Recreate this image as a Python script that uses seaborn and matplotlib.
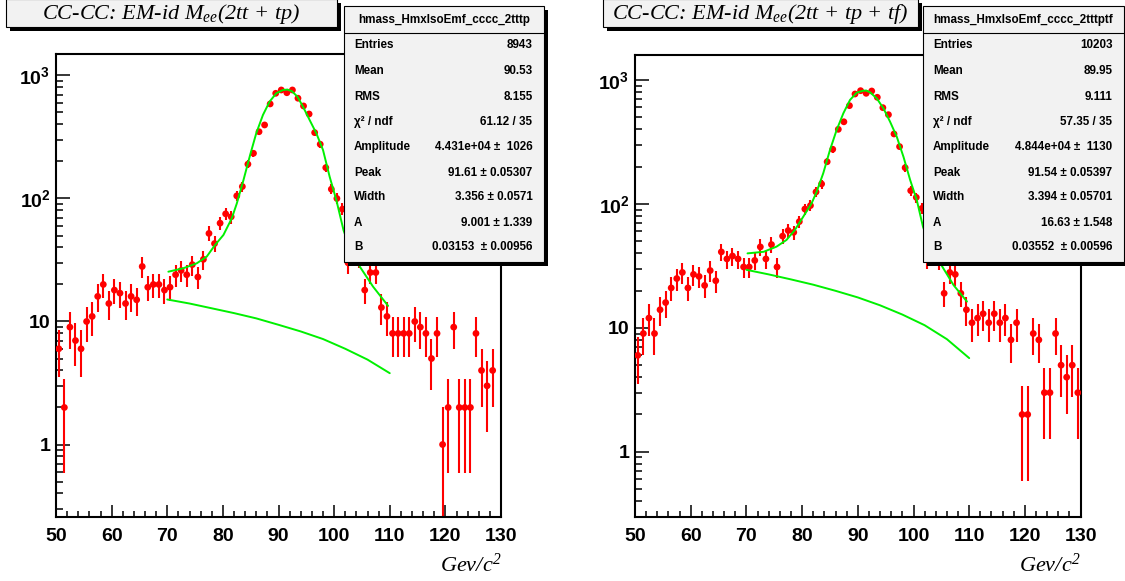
import numpy as np
import pandas as pd
import matplotlib
matplotlib.use("Agg")
import matplotlib.pyplot as plt
import seaborn as sns
from matplotlib.patches import Rectangle
from matplotlib.lines import Line2D
from matplotlib.ticker import FixedLocator, FixedFormatter, MultipleLocator, LogLocator, NullFormatter

# ---------------- data ----------------
bin_centers = np.arange(50.5, 130.0, 1.0)

counts_left = [6, 2, 9, 7, 6, 10, 11, 16, 20, 14,
               18, 17, 14, 16, 15, 28, 19, 20, 20, 18,
               19, 24, 26, 24, 29, 23, 32, 52, 43, 63,
               75, 71, 105, 125, 190, 233, 349, 396, 587, 716,
               762, 724, 762, 653, 565, 486, 343, 276, 178, 119,
               100, 82, 30, 45, 33, 18, 25, 25, 13, 11,
               8, 8, 8, 8, 10, 9, 8, 5, 8, 1,
               2, 9, 2, 2, 2, 8, 4, 3, 4, 0]

counts_right = [6, 9, 12, 9, 14, 16, 21, 25, 28, 21,
                27, 26, 22, 29, 24, 41, 36, 38, 36, 31,
                31, 35, 45, 36, 47, 31, 55, 61, 59, 72,
                91, 97, 125, 145, 219, 276, 400, 460, 621, 771,
                820, 781, 815, 725, 598, 525, 367, 290, 196, 128,
                113, 92, 36, 45, 35, 19, 28, 27, 19, 14,
                11, 12, 13, 11, 13, 11, 12, 8, 11, 2,
                2, 9, 8, 3, 3, 9, 5, 4, 5, 3]

# fitted curves
fit_x_left = [70.2, 72.9, 75.3, 77.1, 78.6, 80.1, 81.6, 82.5, 83.7, 84.9, 86.0, 87.2, 88.4,
              89.6, 90.8, 91.6, 92.4, 93.4, 94.4, 95.6, 96.8, 98.0, 99.2, 100.4, 101.7,
              103.0, 104.6, 107.0, 109.7]
fit_y_left = [25.4, 27.1, 29.7, 33.7, 41.9, 50.5, 69, 91, 141, 226, 339, 477, 613,
              716, 762, 768, 745, 673, 558, 434, 339, 248, 150, 97, 55,
              38, 28, 19.2, 13.4]
bg_x_left = [70, 74, 78, 82, 86, 90, 94, 98, 102, 106, 110]
bg_y_left = [15.1, 14.0, 12.8, 11.7, 10.6, 9.4, 8.3, 7.2, 6.0, 4.9, 3.8]

fit_x_right = [70.2, 73.1, 75.4, 77.2, 78.7, 80.2, 81.7, 82.6, 83.8, 85.0, 86.2, 87.4, 88.6,
               89.8, 91.0, 91.5, 92.2, 93.4, 94.6, 95.8, 97.0, 98.2, 99.4, 100.6, 101.7,
               103.0, 104.8, 107.2, 109.6]
fit_y_right = [39.9, 41.1, 45.2, 51.2, 61.6, 78.8, 101, 125, 177, 272, 395, 538, 690,
               790, 820, 822, 796, 711, 591, 460, 348, 240, 156, 107, 65.5,
               45, 33.2, 22.1, 16.3]
bg_x_right = [70, 74, 78, 82, 86, 90, 94, 98, 102, 106, 110]
bg_y_right = [29.4, 27.0, 24.6, 22.3, 19.9, 17.6, 15.2, 12.8, 10.5, 8.1, 5.7]

stat_labels = ["Entries", "Mean", "RMS", "\u03c7\u00b2 / ndf", "Amplitude", "Peak", "Width", "A", "B"]
stat_values_left = ["8943", "90.53", "8.155", "61.12 / 35", "4.431e+04 \u00b1  1026",
                    "91.61 \u00b1 0.05307", "3.356 \u00b1 0.0571", "9.001 \u00b1 1.339",
                    "0.03153  \u00b1 0.00956"]
stat_values_right = ["10203", "89.95", "9.111", "57.35 / 35", "4.844e+04 \u00b1  1130",
                     "91.54 \u00b1 0.05397", "3.394 \u00b1 0.05701", "16.63 \u00b1 1.548",
                     "0.03552  \u00b1 0.00596"]
hist_name_left = "hmass_HmxIsoEmf_cccc_2tttp"
hist_name_right = "hmass_HmxIsoEmf_cccc_2tttptf"
title_left = "CC-CC: EM-id $M_{ee}$(2tt + tp)"
title_right = "CC-CC: EM-id $M_{ee}$(2tt + tp + tf)"
x_ticks = [50, 60, 70, 80, 90, 100, 110, 120, 130]
y_ticks = [1, 10, 100, 1000]
y_tick_labels = ["1", "10", r"$\mathdefault{10^{2}}$", r"$\mathdefault{10^{3}}$"]

# ---------------- style ----------------
sns.set_theme(style="ticks")
plt.rcParams['font.family'] = ['Liberation Sans', 'DejaVu Sans']
plt.rcParams['font.weight'] = 'bold'
plt.rcParams['mathtext.fontset'] = 'custom'
plt.rcParams['mathtext.it'] = 'Liberation Serif:style=italic:weight=normal'
plt.rcParams['mathtext.rm'] = 'Liberation Serif:weight=normal'
plt.rcParams['mathtext.bf'] = 'Liberation Serif:weight=bold'

W, H = 1125, 581
fig = plt.figure(figsize=(W / 100, H / 100), dpi=100)
fig.patch.set_facecolor('white')

GREEN = '#00f000'
RED = '#ff0000'


def fx(px):
    return px / W


def fy(py):
    return 1 - py / H


def draw_box(x0, y0, x1, y1, shadow=4, fc='#f2f2f2', z=10):
    fig.add_artist(Rectangle((fx(x0 + shadow), fy(y1 + shadow)), fx(x1) - fx(x0), fy(y0) - fy(y1),
                             transform=fig.transFigure, facecolor='black', edgecolor='none', zorder=z))
    fig.add_artist(Rectangle((fx(x0), fy(y1)), fx(x1) - fx(x0), fy(y0) - fy(y1),
                             transform=fig.transFigure, facecolor=fc, edgecolor='black', lw=0.8,
                             zorder=z + 1))


panels = [
    dict(frame=(56, 54.3, 501, 517.3), counts=counts_left, ylim=(0.256, 1486),
         fit=(fit_x_left, fit_y_left), bg=(bg_x_left, bg_y_left),
         title=title_left, tbox=(6, -1, 337, 27),
         sbox=(344, 6, 544, 262), name=hist_name_left, values=stat_values_left),
    dict(frame=(635, 54.7, 1080.6, 517.3), counts=counts_right, ylim=(0.296, 1600),
         fit=(fit_x_right, fit_y_right), bg=(bg_x_right, bg_y_right),
         title=title_right, tbox=(603, -1, 918, 27),
         sbox=(923, 6, 1124, 262), name=hist_name_right, values=stat_values_right),
]

row_y = [44.5, 71, 96.5, 121.7, 147, 172.5, 197.5, 222.5, 247.5]

for p in panels:
    l, t, r, b = p['frame']
    ax = fig.add_axes([fx(l), fy(b), fx(r) - fx(l), fy(t) - fy(b)])
    ax.set_facecolor('white')
    ax.set_yscale('log')

    df = pd.DataFrame({'x': bin_centers, 'n': p['counts']})
    nz = df[df['n'] > 0].copy()
    n = nz['n'].to_numpy(dtype=float)
    err = np.sqrt(n)
    lo = np.clip(n - err, 1e-3, None)
    hi = n + err
    ax.vlines(nz['x'], lo, hi, color=RED, lw=1.5, zorder=2)
    sns.scatterplot(data=nz, x='x', y='n', ax=ax, color=RED, s=24,
                    edgecolor='none', linewidth=0, zorder=3, legend=False)

    sns.lineplot(x=p['bg'][0], y=p['bg'][1], ax=ax, color=GREEN, lw=1.4,
                 estimator=None, sort=False, zorder=4)
    sns.lineplot(x=p['fit'][0], y=p['fit'][1], ax=ax, color=GREEN, lw=1.4,
                 estimator=None, sort=False, zorder=4)

    ax.set_xlim(50, 130)
    ax.set_ylim(*p['ylim'])
    ax.set_xlabel('')
    ax.set_ylabel('')

    ax.xaxis.set_major_locator(FixedLocator(x_ticks))
    ax.xaxis.set_minor_locator(MultipleLocator(2))
    ax.yaxis.set_major_locator(FixedLocator(y_ticks))
    ax.yaxis.set_major_formatter(FixedFormatter(y_tick_labels))
    ax.yaxis.set_minor_locator(LogLocator(base=10, subs=(2, 3, 4, 5, 6, 7, 8, 9)))
    ax.yaxis.set_minor_formatter(NullFormatter())

    ax.tick_params(axis='x', which='both', direction='in', bottom=True, top=False,
                   labelsize=14, pad=8, color='black', width=1.1)
    ax.tick_params(axis='x', which='major', length=8.6)
    ax.tick_params(axis='x', which='minor', length=4.3)
    ax.tick_params(axis='y', which='both', direction='in', left=True, right=False,
                   labelsize=14, pad=4, color='black', width=1.1)
    ax.tick_params(axis='y', which='major', length=10)
    ax.tick_params(axis='y', which='minor', length=5)
    for lbl in ax.get_xticklabels() + ax.get_yticklabels():
        lbl.set_fontweight('bold')
        lbl.set_color('black')
    for s in ax.spines.values():
        s.set_visible(True)
        s.set_linewidth(1.5)
        s.set_color('black')

    # x axis title
    fig.text(fx(r), fy(565), "Gev/c$^{\\mathdefault{2}}$", ha='right', va='center',
             family='Liberation Serif', style='italic', weight='normal', fontsize=16,
             color='black')

    # title box
    x0, y0, x1, y1 = p['tbox']
    draw_box(x0, y0, x1, y1)
    fig.text(fx((x0 + x1) / 2), fy(13.5), p['title'], ha='center', va='center',
             family='Liberation Serif', style='italic', weight='normal', fontsize=16,
             color='black', zorder=12)

    # stats box
    x0, y0, x1, y1 = p['sbox']
    draw_box(x0, y0, x1, y1)
    fig.add_artist(Line2D([fx(x0), fx(x1)], [fy(33), fy(33)], transform=fig.transFigure,
                          color='black', lw=0.8, zorder=12))
    fig.text(fx((x0 + x1) / 2), fy(19.5), p['name'], ha='center', va='center',
             fontsize=8.4, weight='bold', color='black', zorder=12)
    for lab, val, yy in zip(stat_labels, p['values'], row_y):
        fig.text(fx(x0 + 10), fy(yy), lab, ha='left', va='center', fontsize=8.4,
                 weight='bold', color='black', zorder=12)
        fig.text(fx(x1 - 11.5), fy(yy), val, ha='right', va='center', fontsize=8.4,
                 weight='bold', color='black', zorder=12)

fig.savefig("out.png", dpi=100, facecolor='white')
